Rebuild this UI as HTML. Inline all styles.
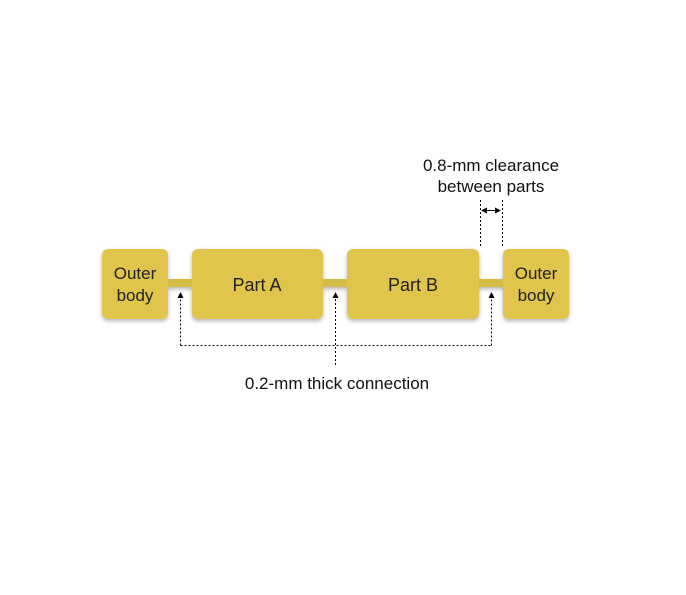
<!DOCTYPE html>
<html><head><style>
body{margin:0;width:686px;height:590px;background:#fff;font-family:"Liberation Sans",sans-serif;overflow:hidden}
</style></head><body>
<svg width="686" height="590" xmlns="http://www.w3.org/2000/svg">
<defs>
<filter id="sh" x="-20%" y="-20%" width="140%" height="150%"><feDropShadow dx="0" dy="2" stdDeviation="2" flood-color="#000" flood-opacity="0.3"/></filter>
<marker id="ar" markerWidth="6" markerHeight="6" refX="5" refY="3" orient="auto"><path d="M0,0 L6,3 L0,6 z" fill="#000"/></marker>
</defs>
<g fill="#e0c44c" filter="url(#sh)">
<rect x="166" y="279" width="28" height="8" fill="#d6bb48"/>
<rect x="321" y="279" width="28" height="8" fill="#d6bb48"/>
<rect x="477" y="279" width="28" height="8" fill="#d6bb48"/>
<rect x="102" y="249" width="66" height="70" rx="6"/>
<rect x="192" y="249" width="131" height="70" rx="6"/>
<rect x="347" y="249" width="132" height="70" rx="6"/>
<rect x="503" y="249" width="66" height="70" rx="6"/>
</g>
<g fill="#222" text-anchor="middle">
<text x="135" y="279" font-size="17">Outer</text><text x="135" y="301" font-size="17">body</text>
<text x="257" y="291" font-size="18">Part A</text>
<text x="413" y="291" font-size="18">Part B</text>
<text x="536" y="279" font-size="17">Outer</text><text x="536" y="301" font-size="17">body</text>
</g>
<g stroke="#000" stroke-width="1" stroke-dasharray="2,2" fill="none">
<path d="M180.5 345.5 H491.5"/>
<path d="M180.5 345.5 V293" marker-end="url(#ar)"/>
<path d="M491.5 345.5 V293" marker-end="url(#ar)"/>
<path d="M335.5 365 V293" marker-end="url(#ar)"/>
<path d="M480.5 200 V248"/>
<path d="M502.5 200 V248"/>
</g>
<path d="M482 210.5 H500" stroke="#000" stroke-width="1" marker-end="url(#ar)"/>
<path d="M500 210.5 H482" stroke="#000" stroke-width="1" marker-end="url(#ar)"/>
<g font-size="17" fill="#111" text-anchor="middle">
<text x="337" y="389">0.2-mm thick connection</text>
<text x="491" y="171">0.8-mm clearance</text>
<text x="491" y="192">between parts</text>
</g>
</svg>
</body></html>
